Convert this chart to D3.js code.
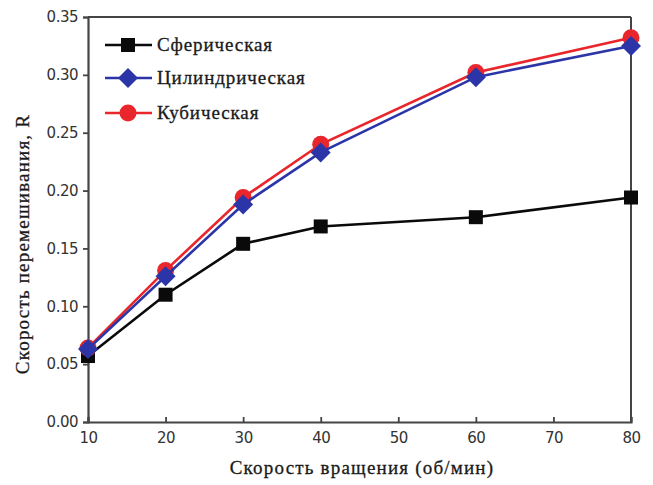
<!DOCTYPE html>
<html><head><meta charset="utf-8">
<script src="https://cdn.jsdelivr.net/npm/d3@7"></script>
<style>body{margin:0;background:#fff}svg{display:block}</style>
</head><body>
<svg id="c" width="653" height="485"></svg>
<script>
const speeds = [10, 20, 30, 40, 60, 80];
const sphericalValues = [0.057, 0.110, 0.154, 0.169, 0.177, 0.194];
const cylindricalValues = [0.063, 0.126, 0.188, 0.233, 0.298, 0.325];
const cubicValues = [0.064, 0.131, 0.194, 0.240, 0.302, 0.332];
const seriesNames = ["Сферическая", "Цилиндрическая", "Кубическая"];
const xTicks = [10, 20, 30, 40, 50, 60, 70, 80];
const yTicks = [0.00, 0.05, 0.10, 0.15, 0.20, 0.25, 0.30, 0.35];
const xTitle = "Скорость вращения (об/мин)";
const yTitle = "Скорость перемешивания, R";

const svg = d3.select("#c");
const m = {l: 88, r: 631, t: 17, b: 422};
const x = d3.scaleLinear().domain([10, 80]).range([m.l, m.r]);
const y = d3.scaleLinear().domain([0, 0.35]).range([m.b, m.t]);
const axisCol = "#444";
const serif = "Liberation Serif, Times New Roman, serif";

const series = [
  {name: seriesNames[0], vals: sphericalValues, color: "#0a0a0a", shape: "square"},
  {name: seriesNames[1], vals: cylindricalValues, color: "#2b35a8", shape: "diamond"},
  {name: seriesNames[2], vals: cubicValues, color: "#e8262b", shape: "circle"}
];

// axes
const xAxis = svg.append("g").attr("transform", `translate(0,${m.b})`)
  .call(d3.axisBottom(x).tickValues(xTicks).tickSize(-5).tickPadding(10).tickFormat(d3.format("d")));
const yAxis = svg.append("g").attr("transform", `translate(${m.l},0)`)
  .call(d3.axisLeft(y).tickValues(yTicks).tickSize(5).tickPadding(5).tickFormat(d3.format(".2f")));
[xAxis, yAxis].forEach(a => {
  a.select(".domain").attr("stroke", axisCol).attr("stroke-width", 2.2);
  a.selectAll(".tick line").attr("stroke", axisCol).attr("stroke-width", 1.8);
  a.selectAll("text").attr("fill", "#333").style("font-family", "DejaVu Sans, sans-serif").style("font-size", "15px").style("letter-spacing", "-0.5px");
});
// frame top & right
svg.append("line").attr("x1", m.l).attr("x2", m.r).attr("y1", m.t).attr("y2", m.t).attr("stroke", axisCol).attr("stroke-width", 2);
svg.append("line").attr("x1", m.r).attr("x2", m.r).attr("y1", m.t).attr("y2", m.b).attr("stroke", axisCol).attr("stroke-width", 2);

function drawMarker(g, shape, cx, cy, color) {
  if (shape === "square") {
    g.append("rect").attr("x", cx - 7).attr("y", cy - 7).attr("width", 14).attr("height", 14).attr("fill", color);
  } else if (shape === "diamond") {
    g.append("path").attr("d", `M${cx},${cy-10}L${cx+10},${cy}L${cx},${cy+10}L${cx-10},${cy}Z`).attr("fill", color);
  } else {
    g.append("circle").attr("cx", cx).attr("cy", cy).attr("r", 8.5).attr("fill", color);
  }
}

const line = d3.line().x(d => x(d[0])).y(d => y(d[1]));
const drawOrder = [0, 2, 1];
drawOrder.forEach(i => {
  const s = series[i];
  const pts = speeds.map((v, j) => [v, s.vals[j]]);
  const g = svg.append("g");
  g.append("path").attr("d", line(pts)).attr("fill", "none").attr("stroke", s.color).attr("stroke-width", 2.6);
  pts.forEach(p => drawMarker(g, s.shape, x(p[0]), y(p[1]), s.color));
});

// legend
const legY = [45, 78, 113];
series.forEach((s, i) => {
  const g = svg.append("g");
  g.append("line").attr("x1", 105).attr("x2", 152).attr("y1", legY[i]).attr("y2", legY[i]).attr("stroke", s.color).attr("stroke-width", 2.6);
  drawMarker(g, s.shape, 128, legY[i], s.color);
  g.append("text").attr("x", 157).attr("y", legY[i] + 6).text(s.name)
    .style("font-family", serif).style("font-size", "19px").style("letter-spacing", "0.9px")
    .attr("fill", "#1a1a1a").attr("stroke", "#1a1a1a").attr("stroke-width", 0.3);
});

// titles
svg.append("text").attr("x", 362).attr("y", 474).attr("text-anchor", "middle").text(xTitle)
  .style("font-family", serif).style("font-size", "19px").style("letter-spacing", "1.2px")
  .attr("fill", "#1a1a1a").attr("stroke", "#1a1a1a").attr("stroke-width", 0.3);
svg.append("text").attr("transform", `translate(29,244) rotate(-90)`).attr("text-anchor", "middle").text(yTitle)
  .style("font-family", serif).style("font-size", "19px").style("letter-spacing", "1.2px")
  .attr("fill", "#1a1a1a").attr("stroke", "#1a1a1a").attr("stroke-width", 0.3);
</script>
</body></html>
